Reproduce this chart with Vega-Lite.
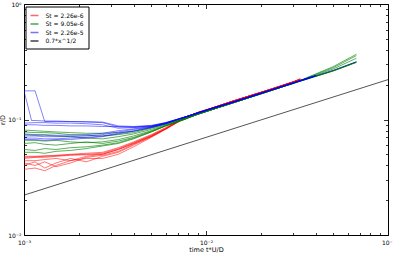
{
"$schema": "https://vega.github.io/schema/vega-lite/v6.json",
"width": 364, "height": 231,
"autosize": {"type": "none"},
"padding": {"left": 24, "top": 4, "right": 5, "bottom": 19},
"config": {
  "view": {"stroke": "#000", "strokeWidth": 1},
  "font": "DejaVu Sans",
  "axis": {"grid": false, "domain": false, "tickColor": "#000", "tickWidth": 0.8, "labelFontSize": 6, "labelColor": "#000", "titleFontSize": 6.5, "titleFontWeight": "normal", "titleColor": "#000", "labelOverlap": false, "labelFlush": false}
},
"datasets": {
"meta": [
{"c":"r1","s":"St = 2.26e-6"},{"c":"r2","s":"St = 2.26e-6"},{"c":"r3","s":"St = 2.26e-6"},{"c":"r4","s":"St = 2.26e-6"},{"c":"r5","s":"St = 2.26e-6"},{"c":"r6","s":"St = 2.26e-6"},{"c":"r7","s":"St = 2.26e-6"},
{"c":"g1","s":"St = 9.05e-6"},{"c":"g2","s":"St = 9.05e-6"},{"c":"g3","s":"St = 9.05e-6"},{"c":"g4","s":"St = 9.05e-6"},{"c":"g5","s":"St = 9.05e-6"},{"c":"g6","s":"St = 9.05e-6"},{"c":"g7","s":"St = 9.05e-6"},
{"c":"b1","s":"St = 2.26e-5"},{"c":"b2","s":"St = 2.26e-5"},{"c":"b3","s":"St = 2.26e-5"},{"c":"b4","s":"St = 2.26e-5"},{"c":"b5","s":"St = 2.26e-5"},{"c":"b6","s":"St = 2.26e-5"},{"c":"b7","s":"St = 2.26e-5"},{"c":"b8","s":"St = 2.26e-5"},
{"c":"k","s":"0.7*x^1/2"}
],
"pts": [
{"c":"r1","x":0.001,"y":0.048},{"c":"r1","x":0.00115,"y":0.048},{"c":"r1","x":0.0013,"y":0.0485},{"c":"r1","x":0.0015,"y":0.049},{"c":"r1","x":0.0018,"y":0.05},{"c":"r1","x":0.0022,"y":0.051},{"c":"r1","x":0.0027,"y":0.052},{"c":"r1","x":0.0033,"y":0.057},{"c":"r1","x":0.004,"y":0.064},{"c":"r1","x":0.005,"y":0.074},{"c":"r1","x":0.006,"y":0.085},{"c":"r1","x":0.0075,"y":0.103},{"c":"r1","x":0.009,"y":0.115},{"c":"r1","x":0.011,"y":0.127},{"c":"r1","x":0.014,"y":0.144},{"c":"r1","x":0.018,"y":0.163},{"c":"r1","x":0.023,"y":0.184},{"c":"r1","x":0.03,"y":0.211},{"c":"r1","x":0.033,"y":0.222},
{"c":"r2","x":0.001,"y":0.047},{"c":"r2","x":0.00115,"y":0.0475},{"c":"r2","x":0.0013,"y":0.048},{"c":"r2","x":0.0015,"y":0.0485},{"c":"r2","x":0.0018,"y":0.0495},{"c":"r2","x":0.0022,"y":0.05},{"c":"r2","x":0.0027,"y":0.051},{"c":"r2","x":0.0033,"y":0.056},{"c":"r2","x":0.004,"y":0.063},{"c":"r2","x":0.005,"y":0.073},{"c":"r2","x":0.006,"y":0.084},{"c":"r2","x":0.0075,"y":0.102},{"c":"r2","x":0.009,"y":0.115},{"c":"r2","x":0.011,"y":0.127},{"c":"r2","x":0.014,"y":0.144},{"c":"r2","x":0.018,"y":0.163},{"c":"r2","x":0.023,"y":0.184},{"c":"r2","x":0.03,"y":0.211},{"c":"r2","x":0.033,"y":0.223},
{"c":"r3","x":0.001,"y":0.046},{"c":"r3","x":0.00115,"y":0.047},{"c":"r3","x":0.0013,"y":0.047},{"c":"r3","x":0.0015,"y":0.048},{"c":"r3","x":0.0018,"y":0.049},{"c":"r3","x":0.0022,"y":0.0495},{"c":"r3","x":0.0027,"y":0.05},{"c":"r3","x":0.0033,"y":0.055},{"c":"r3","x":0.004,"y":0.062},{"c":"r3","x":0.005,"y":0.072},{"c":"r3","x":0.006,"y":0.083},{"c":"r3","x":0.0075,"y":0.102},{"c":"r3","x":0.009,"y":0.115},{"c":"r3","x":0.011,"y":0.127},{"c":"r3","x":0.014,"y":0.144},{"c":"r3","x":0.018,"y":0.163},{"c":"r3","x":0.023,"y":0.184},{"c":"r3","x":0.03,"y":0.211},{"c":"r3","x":0.033,"y":0.222},
{"c":"r4","x":0.001,"y":0.04},{"c":"r4","x":0.00115,"y":0.043},{"c":"r4","x":0.0013,"y":0.038},{"c":"r4","x":0.0015,"y":0.042},{"c":"r4","x":0.0018,"y":0.046},{"c":"r4","x":0.0022,"y":0.043},{"c":"r4","x":0.0027,"y":0.048},{"c":"r4","x":0.0033,"y":0.052},{"c":"r4","x":0.004,"y":0.06},{"c":"r4","x":0.005,"y":0.071},{"c":"r4","x":0.006,"y":0.083},{"c":"r4","x":0.0075,"y":0.101},{"c":"r4","x":0.009,"y":0.114},{"c":"r4","x":0.011,"y":0.127},{"c":"r4","x":0.014,"y":0.144},{"c":"r4","x":0.018,"y":0.163},{"c":"r4","x":0.023,"y":0.184},{"c":"r4","x":0.03,"y":0.211},{"c":"r4","x":0.033,"y":0.221},
{"c":"r5","x":0.001,"y":0.037},{"c":"r5","x":0.00115,"y":0.038},{"c":"r5","x":0.0013,"y":0.036},{"c":"r5","x":0.0015,"y":0.04},{"c":"r5","x":0.0018,"y":0.044},{"c":"r5","x":0.0022,"y":0.046},{"c":"r5","x":0.0027,"y":0.046},{"c":"r5","x":0.0033,"y":0.05},{"c":"r5","x":0.004,"y":0.058},{"c":"r5","x":0.005,"y":0.07},{"c":"r5","x":0.006,"y":0.082},{"c":"r5","x":0.0075,"y":0.101},{"c":"r5","x":0.009,"y":0.114},{"c":"r5","x":0.011,"y":0.127},{"c":"r5","x":0.014,"y":0.144},{"c":"r5","x":0.018,"y":0.163},{"c":"r5","x":0.023,"y":0.184},{"c":"r5","x":0.03,"y":0.211},{"c":"r5","x":0.033,"y":0.222},
{"c":"r6","x":0.001,"y":0.042},{"c":"r6","x":0.00115,"y":0.04},{"c":"r6","x":0.0013,"y":0.043},{"c":"r6","x":0.0015,"y":0.039},{"c":"r6","x":0.0018,"y":0.042},{"c":"r6","x":0.0022,"y":0.047},{"c":"r6","x":0.0027,"y":0.049},{"c":"r6","x":0.0033,"y":0.053},{"c":"r6","x":0.004,"y":0.061},{"c":"r6","x":0.005,"y":0.071},{"c":"r6","x":0.006,"y":0.083},{"c":"r6","x":0.0075,"y":0.101},{"c":"r6","x":0.009,"y":0.114},{"c":"r6","x":0.011,"y":0.127},{"c":"r6","x":0.014,"y":0.144},{"c":"r6","x":0.018,"y":0.163},{"c":"r6","x":0.023,"y":0.184},{"c":"r6","x":0.03,"y":0.211},{"c":"r6","x":0.033,"y":0.224},
{"c":"r7","x":0.001,"y":0.044},{"c":"r7","x":0.00115,"y":0.044},{"c":"r7","x":0.0013,"y":0.045},{"c":"r7","x":0.0015,"y":0.046},{"c":"r7","x":0.0018,"y":0.044},{"c":"r7","x":0.0022,"y":0.048},{"c":"r7","x":0.0027,"y":0.05},{"c":"r7","x":0.0033,"y":0.055},{"c":"r7","x":0.004,"y":0.062},{"c":"r7","x":0.005,"y":0.072},{"c":"r7","x":0.006,"y":0.083},{"c":"r7","x":0.0075,"y":0.102},{"c":"r7","x":0.009,"y":0.115},{"c":"r7","x":0.011,"y":0.127},{"c":"r7","x":0.014,"y":0.144},{"c":"r7","x":0.018,"y":0.163},{"c":"r7","x":0.023,"y":0.184},{"c":"r7","x":0.03,"y":0.212},{"c":"r7","x":0.033,"y":0.226},
{"c":"g1","x":0.001,"y":0.081},{"c":"g1","x":0.00115,"y":0.08},{"c":"g1","x":0.0013,"y":0.079},{"c":"g1","x":0.0015,"y":0.078},{"c":"g1","x":0.0018,"y":0.077},{"c":"g1","x":0.0022,"y":0.076},{"c":"g1","x":0.0027,"y":0.076},{"c":"g1","x":0.0033,"y":0.077},{"c":"g1","x":0.004,"y":0.079},{"c":"g1","x":0.005,"y":0.085},{"c":"g1","x":0.006,"y":0.092},{"c":"g1","x":0.0075,"y":0.101},{"c":"g1","x":0.009,"y":0.111},{"c":"g1","x":0.011,"y":0.123},{"c":"g1","x":0.014,"y":0.139},{"c":"g1","x":0.018,"y":0.158},{"c":"g1","x":0.023,"y":0.179},{"c":"g1","x":0.03,"y":0.205},{"c":"g1","x":0.04,"y":0.248},{"c":"g1","x":0.05,"y":0.287},{"c":"g1","x":0.067,"y":0.367},
{"c":"g2","x":0.001,"y":0.078},{"c":"g2","x":0.00115,"y":0.077},{"c":"g2","x":0.0013,"y":0.077},{"c":"g2","x":0.0015,"y":0.076},{"c":"g2","x":0.0018,"y":0.074},{"c":"g2","x":0.0022,"y":0.073},{"c":"g2","x":0.0027,"y":0.072},{"c":"g2","x":0.0033,"y":0.074},{"c":"g2","x":0.004,"y":0.077},{"c":"g2","x":0.005,"y":0.084},{"c":"g2","x":0.006,"y":0.091},{"c":"g2","x":0.0075,"y":0.101},{"c":"g2","x":0.009,"y":0.111},{"c":"g2","x":0.011,"y":0.123},{"c":"g2","x":0.014,"y":0.139},{"c":"g2","x":0.018,"y":0.158},{"c":"g2","x":0.023,"y":0.179},{"c":"g2","x":0.03,"y":0.205},{"c":"g2","x":0.04,"y":0.245},{"c":"g2","x":0.05,"y":0.281},{"c":"g2","x":0.067,"y":0.357},
{"c":"g3","x":0.001,"y":0.074},{"c":"g3","x":0.00115,"y":0.073},{"c":"g3","x":0.0013,"y":0.073},{"c":"g3","x":0.0015,"y":0.072},{"c":"g3","x":0.0018,"y":0.071},{"c":"g3","x":0.0022,"y":0.069},{"c":"g3","x":0.0027,"y":0.068},{"c":"g3","x":0.0033,"y":0.071},{"c":"g3","x":0.004,"y":0.075},{"c":"g3","x":0.005,"y":0.082},{"c":"g3","x":0.006,"y":0.09},{"c":"g3","x":0.0075,"y":0.1},{"c":"g3","x":0.009,"y":0.111},{"c":"g3","x":0.011,"y":0.123},{"c":"g3","x":0.014,"y":0.139},{"c":"g3","x":0.018,"y":0.158},{"c":"g3","x":0.023,"y":0.179},{"c":"g3","x":0.03,"y":0.205},{"c":"g3","x":0.04,"y":0.242},{"c":"g3","x":0.05,"y":0.274},{"c":"g3","x":0.067,"y":0.339},
{"c":"g4","x":0.001,"y":0.066},{"c":"g4","x":0.00115,"y":0.066},{"c":"g4","x":0.0013,"y":0.065},{"c":"g4","x":0.0015,"y":0.066},{"c":"g4","x":0.0018,"y":0.064},{"c":"g4","x":0.0022,"y":0.063},{"c":"g4","x":0.0027,"y":0.064},{"c":"g4","x":0.0033,"y":0.067},{"c":"g4","x":0.004,"y":0.072},{"c":"g4","x":0.005,"y":0.08},{"c":"g4","x":0.006,"y":0.089},{"c":"g4","x":0.0075,"y":0.1},{"c":"g4","x":0.009,"y":0.111},{"c":"g4","x":0.011,"y":0.123},{"c":"g4","x":0.014,"y":0.139},{"c":"g4","x":0.018,"y":0.158},{"c":"g4","x":0.023,"y":0.179},{"c":"g4","x":0.03,"y":0.205},{"c":"g4","x":0.04,"y":0.237},{"c":"g4","x":0.05,"y":0.264},{"c":"g4","x":0.067,"y":0.314},
{"c":"g5","x":0.001,"y":0.062},{"c":"g5","x":0.00115,"y":0.063},{"c":"g5","x":0.0013,"y":0.061},{"c":"g5","x":0.0015,"y":0.06},{"c":"g5","x":0.0018,"y":0.062},{"c":"g5","x":0.0022,"y":0.064},{"c":"g5","x":0.0027,"y":0.062},{"c":"g5","x":0.0033,"y":0.065},{"c":"g5","x":0.004,"y":0.07},{"c":"g5","x":0.005,"y":0.079},{"c":"g5","x":0.006,"y":0.088},{"c":"g5","x":0.0075,"y":0.1},{"c":"g5","x":0.009,"y":0.111},{"c":"g5","x":0.011,"y":0.123},{"c":"g5","x":0.014,"y":0.139},{"c":"g5","x":0.018,"y":0.158},{"c":"g5","x":0.023,"y":0.179},{"c":"g5","x":0.03,"y":0.205},{"c":"g5","x":0.04,"y":0.236},{"c":"g5","x":0.05,"y":0.263},{"c":"g5","x":0.067,"y":0.312},
{"c":"g6","x":0.001,"y":0.055},{"c":"g6","x":0.00115,"y":0.054},{"c":"g6","x":0.0013,"y":0.056},{"c":"g6","x":0.0015,"y":0.055},{"c":"g6","x":0.0018,"y":0.057},{"c":"g6","x":0.0022,"y":0.058},{"c":"g6","x":0.0027,"y":0.06},{"c":"g6","x":0.0033,"y":0.063},{"c":"g6","x":0.004,"y":0.069},{"c":"g6","x":0.005,"y":0.078},{"c":"g6","x":0.006,"y":0.088},{"c":"g6","x":0.0075,"y":0.099},{"c":"g6","x":0.009,"y":0.111},{"c":"g6","x":0.011,"y":0.123},{"c":"g6","x":0.014,"y":0.139},{"c":"g6","x":0.018,"y":0.158},{"c":"g6","x":0.023,"y":0.179},{"c":"g6","x":0.03,"y":0.205},{"c":"g6","x":0.04,"y":0.237},{"c":"g6","x":0.05,"y":0.265},{"c":"g6","x":0.067,"y":0.316},
{"c":"g7","x":0.001,"y":0.052},{"c":"g7","x":0.00115,"y":0.052},{"c":"g7","x":0.0013,"y":0.051},{"c":"g7","x":0.0015,"y":0.053},{"c":"g7","x":0.0018,"y":0.054},{"c":"g7","x":0.0022,"y":0.056},{"c":"g7","x":0.0027,"y":0.059},{"c":"g7","x":0.0033,"y":0.062},{"c":"g7","x":0.004,"y":0.068},{"c":"g7","x":0.005,"y":0.078},{"c":"g7","x":0.006,"y":0.088},{"c":"g7","x":0.0075,"y":0.099},{"c":"g7","x":0.009,"y":0.111},{"c":"g7","x":0.011,"y":0.123},{"c":"g7","x":0.014,"y":0.139},{"c":"g7","x":0.018,"y":0.158},{"c":"g7","x":0.023,"y":0.179},{"c":"g7","x":0.03,"y":0.205},{"c":"g7","x":0.04,"y":0.236},{"c":"g7","x":0.05,"y":0.264},{"c":"g7","x":0.067,"y":0.313},
{"c":"b1","x":0.001,"y":0.177},{"c":"b1","x":0.00115,"y":0.177},{"c":"b1","x":0.0013,"y":0.096},{"c":"b1","x":0.0015,"y":0.096},{"c":"b1","x":0.0018,"y":0.096},{"c":"b1","x":0.0022,"y":0.095},{"c":"b1","x":0.0027,"y":0.094},{"c":"b1","x":0.0033,"y":0.086},{"c":"b1","x":0.004,"y":0.086},{"c":"b1","x":0.005,"y":0.088},{"c":"b1","x":0.006,"y":0.094},{"c":"b1","x":0.0075,"y":0.104},{"c":"b1","x":0.009,"y":0.114},{"c":"b1","x":0.011,"y":0.126},{"c":"b1","x":0.014,"y":0.141},{"c":"b1","x":0.018,"y":0.16},{"c":"b1","x":0.023,"y":0.181},{"c":"b1","x":0.03,"y":0.207},{"c":"b1","x":0.04,"y":0.239},
{"c":"b2","x":0.001,"y":0.177},{"c":"b2","x":0.0011,"y":0.098},{"c":"b2","x":0.00115,"y":0.098},{"c":"b2","x":0.0013,"y":0.097},{"c":"b2","x":0.0015,"y":0.097},{"c":"b2","x":0.0018,"y":0.096},{"c":"b2","x":0.0022,"y":0.096},{"c":"b2","x":0.0027,"y":0.095},{"c":"b2","x":0.0033,"y":0.088},{"c":"b2","x":0.004,"y":0.087},{"c":"b2","x":0.005,"y":0.089},{"c":"b2","x":0.006,"y":0.094},{"c":"b2","x":0.0075,"y":0.104},{"c":"b2","x":0.009,"y":0.114},{"c":"b2","x":0.011,"y":0.126},{"c":"b2","x":0.014,"y":0.141},{"c":"b2","x":0.018,"y":0.16},{"c":"b2","x":0.023,"y":0.181},{"c":"b2","x":0.03,"y":0.207},{"c":"b2","x":0.04,"y":0.239},
{"c":"b3","x":0.001,"y":0.093},{"c":"b3","x":0.00115,"y":0.094},{"c":"b3","x":0.0013,"y":0.094},{"c":"b3","x":0.0015,"y":0.093},{"c":"b3","x":0.0018,"y":0.093},{"c":"b3","x":0.0022,"y":0.092},{"c":"b3","x":0.0027,"y":0.09},{"c":"b3","x":0.0033,"y":0.084},{"c":"b3","x":0.004,"y":0.085},{"c":"b3","x":0.005,"y":0.087},{"c":"b3","x":0.006,"y":0.093},{"c":"b3","x":0.0075,"y":0.104},{"c":"b3","x":0.009,"y":0.114},{"c":"b3","x":0.011,"y":0.126},{"c":"b3","x":0.014,"y":0.141},{"c":"b3","x":0.018,"y":0.16},{"c":"b3","x":0.023,"y":0.181},{"c":"b3","x":0.03,"y":0.207},{"c":"b3","x":0.04,"y":0.239},
{"c":"b4","x":0.001,"y":0.09},{"c":"b4","x":0.00115,"y":0.09},{"c":"b4","x":0.0013,"y":0.089},{"c":"b4","x":0.0015,"y":0.089},{"c":"b4","x":0.0018,"y":0.088},{"c":"b4","x":0.0022,"y":0.088},{"c":"b4","x":0.0027,"y":0.087},{"c":"b4","x":0.0033,"y":0.087},{"c":"b4","x":0.004,"y":0.086},{"c":"b4","x":0.005,"y":0.088},{"c":"b4","x":0.006,"y":0.093},{"c":"b4","x":0.0075,"y":0.104},{"c":"b4","x":0.009,"y":0.114},{"c":"b4","x":0.011,"y":0.126},{"c":"b4","x":0.014,"y":0.141},{"c":"b4","x":0.018,"y":0.16},{"c":"b4","x":0.023,"y":0.181},{"c":"b4","x":0.03,"y":0.207},{"c":"b4","x":0.04,"y":0.239},
{"c":"b5","x":0.001,"y":0.075},{"c":"b5","x":0.00115,"y":0.074},{"c":"b5","x":0.0013,"y":0.074},{"c":"b5","x":0.0015,"y":0.073},{"c":"b5","x":0.0018,"y":0.073},{"c":"b5","x":0.0022,"y":0.074},{"c":"b5","x":0.0027,"y":0.076},{"c":"b5","x":0.0033,"y":0.08},{"c":"b5","x":0.004,"y":0.083},{"c":"b5","x":0.005,"y":0.087},{"c":"b5","x":0.006,"y":0.093},{"c":"b5","x":0.0075,"y":0.104},{"c":"b5","x":0.009,"y":0.114},{"c":"b5","x":0.011,"y":0.126},{"c":"b5","x":0.014,"y":0.141},{"c":"b5","x":0.018,"y":0.16},{"c":"b5","x":0.023,"y":0.181},{"c":"b5","x":0.03,"y":0.207},{"c":"b5","x":0.04,"y":0.239},
{"c":"b6","x":0.001,"y":0.072},{"c":"b6","x":0.00115,"y":0.072},{"c":"b6","x":0.0013,"y":0.071},{"c":"b6","x":0.0015,"y":0.071},{"c":"b6","x":0.0018,"y":0.071},{"c":"b6","x":0.0022,"y":0.072},{"c":"b6","x":0.0027,"y":0.074},{"c":"b6","x":0.0033,"y":0.078},{"c":"b6","x":0.004,"y":0.082},{"c":"b6","x":0.005,"y":0.086},{"c":"b6","x":0.006,"y":0.092},{"c":"b6","x":0.0075,"y":0.104},{"c":"b6","x":0.009,"y":0.114},{"c":"b6","x":0.011,"y":0.126},{"c":"b6","x":0.014,"y":0.141},{"c":"b6","x":0.018,"y":0.16},{"c":"b6","x":0.023,"y":0.181},{"c":"b6","x":0.03,"y":0.207},{"c":"b6","x":0.04,"y":0.239},
{"c":"b7","x":0.001,"y":0.069},{"c":"b7","x":0.00115,"y":0.069},{"c":"b7","x":0.0013,"y":0.068},{"c":"b7","x":0.0015,"y":0.068},{"c":"b7","x":0.0018,"y":0.069},{"c":"b7","x":0.0022,"y":0.07},{"c":"b7","x":0.0027,"y":0.072},{"c":"b7","x":0.0033,"y":0.076},{"c":"b7","x":0.004,"y":0.08},{"c":"b7","x":0.005,"y":0.086},{"c":"b7","x":0.006,"y":0.092},{"c":"b7","x":0.0075,"y":0.104},{"c":"b7","x":0.009,"y":0.114},{"c":"b7","x":0.011,"y":0.126},{"c":"b7","x":0.014,"y":0.141},{"c":"b7","x":0.018,"y":0.16},{"c":"b7","x":0.023,"y":0.181},{"c":"b7","x":0.03,"y":0.207},{"c":"b7","x":0.04,"y":0.239},
{"c":"b8","x":0.001,"y":0.067},{"c":"b8","x":0.00115,"y":0.067},{"c":"b8","x":0.0013,"y":0.066},{"c":"b8","x":0.0015,"y":0.067},{"c":"b8","x":0.0018,"y":0.067},{"c":"b8","x":0.0022,"y":0.069},{"c":"b8","x":0.0027,"y":0.071},{"c":"b8","x":0.0033,"y":0.075},{"c":"b8","x":0.004,"y":0.079},{"c":"b8","x":0.005,"y":0.085},{"c":"b8","x":0.006,"y":0.092},{"c":"b8","x":0.0075,"y":0.103},{"c":"b8","x":0.009,"y":0.113},{"c":"b8","x":0.011,"y":0.125},{"c":"b8","x":0.014,"y":0.14},{"c":"b8","x":0.018,"y":0.159},{"c":"b8","x":0.023,"y":0.18},{"c":"b8","x":0.03,"y":0.206},{"c":"b8","x":0.04,"y":0.239},{"c":"b8","x":0.05,"y":0.267},{"c":"b8","x":0.067,"y":0.316},
{"c":"k","x":0.001,"y":0.02214},{"c":"k","x":0.1,"y":0.2214}
]
},
"data": {"name": "pts"},
"transform": [{"lookup": "c", "from": {"data": {"name": "meta"}, "key": "c", "fields": ["s"]}}],
"layer": [
 {
  "transform": [{"filter": "datum.c !== 'k'"}],
  "mark": {"type": "line", "strokeWidth": 0.9, "clip": true},
  "encoding": {
   "x": {"field": "x", "type": "quantitative", "scale": {"type": "log", "domain": [0.001, 0.1], "nice": false},
         "axis": {"orient": "bottom", "values": [0.001, 0.01, 0.1], "tickSize": -4.5, "labelPadding": 9,
                  "labelExpr": "datum.value == 0.001 ? '10⁻³' : datum.value == 0.01 ? '10⁻²' : '10⁻¹'",
                  "title": "time t*U/D", "titlePadding": 1}},
   "y": {"field": "y", "type": "quantitative", "scale": {"type": "log", "domain": [0.01, 1], "nice": false},
         "axis": {"orient": "left", "values": [0.01, 0.1, 1], "tickSize": -4.5, "labelPadding": 7.5,
                  "labelExpr": "datum.value == 0.01 ? '10⁻²' : datum.value == 0.1 ? '10⁻¹' : '10⁰'",
                  "title": "r/D", "titlePadding": 2}},
   "color": {"field": "s", "type": "nominal",
     "scale": {"domain": ["St = 2.26e-6", "St = 9.05e-6", "St = 2.26e-5", "0.7*x^1/2"],
               "range": ["rgba(255,0,0,0.6)", "rgba(0,128,0,0.7)", "rgba(0,0,255,0.55)", "rgba(0,0,0,0.75)"]},
     "legend": {"title": null, "orient": "none", "legendX": 1.5, "legendY": 2.5, "symbolType": "stroke",
                "symbolSize": 64, "symbolStrokeWidth": 1.5, "labelFontSize": 6, "labelColor": "#000",
                "strokeColor": "#000", "fillColor": "#fff", "padding": 4, "rowPadding": 0.5, "labelOffset": 6}},
   "detail": {"field": "c"}
  }
 },
 {
  "transform": [{"filter": "datum.c === 'k'"}],
  "mark": {"type": "line", "strokeWidth": 0.9, "clip": true},
  "encoding": {
   "x": {"field": "x", "type": "quantitative",
         "axis": {"orient": "top", "values": [0.001, 0.01, 0.1], "tickSize": -4.5, "labels": false, "title": null}},
   "y": {"field": "y", "type": "quantitative",
         "axis": {"orient": "right", "values": [0.01, 0.1, 1], "tickSize": -4.5, "labels": false, "title": null}},
   "color": {"field": "s", "type": "nominal"}
  }
 },
 {
  "transform": [{"filter": "datum.c === 'k'"}],
  "mark": {"type": "line", "opacity": 0},
  "encoding": {
   "x": {"field": "x", "type": "quantitative",
         "axis": {"orient": "bottom", "values": [0.002,0.003,0.004,0.005,0.006,0.007,0.008,0.009,0.02,0.03,0.04,0.05,0.06,0.07,0.08,0.09], "tickSize": -2.5, "labels": false, "title": null}},
   "y": {"field": "y", "type": "quantitative",
         "axis": {"orient": "left", "values": [0.02,0.03,0.04,0.05,0.06,0.07,0.08,0.09,0.2,0.3,0.4,0.5,0.6,0.7,0.8,0.9], "tickSize": -2.5, "labels": false, "title": null}}
  }
 },
 {
  "transform": [{"filter": "datum.c === 'k'"}],
  "mark": {"type": "line", "opacity": 0},
  "encoding": {
   "x": {"field": "x", "type": "quantitative",
         "axis": {"orient": "top", "values": [0.002,0.003,0.004,0.005,0.006,0.007,0.008,0.009,0.02,0.03,0.04,0.05,0.06,0.07,0.08,0.09], "tickSize": -2.5, "labels": false, "title": null}},
   "y": {"field": "y", "type": "quantitative",
         "axis": {"orient": "right", "values": [0.02,0.03,0.04,0.05,0.06,0.07,0.08,0.09,0.2,0.3,0.4,0.5,0.6,0.7,0.8,0.9], "tickSize": -2.5, "labels": false, "title": null}}
  }
 }
],
"resolve": {"axis": {"x": "independent", "y": "independent"}}
}
